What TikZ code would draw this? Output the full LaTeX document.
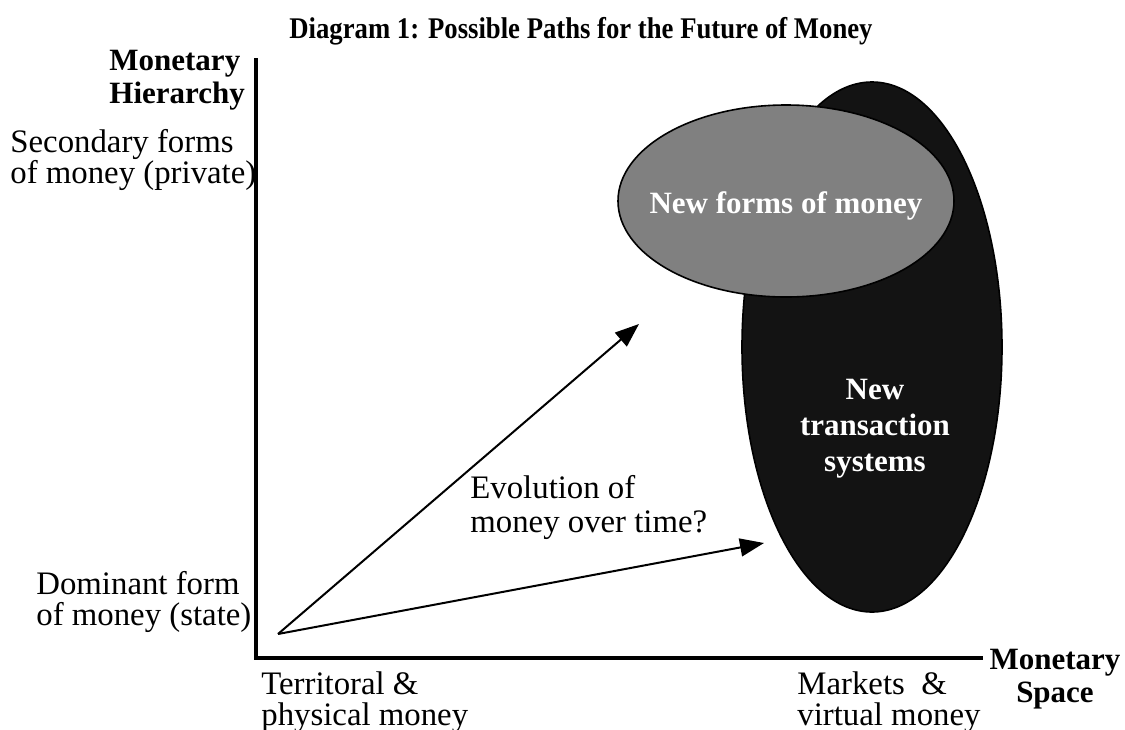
\documentclass[tikz,border=0pt]{standalone}
\usepackage{graphicx}
\usepackage{fontspec}
\setmainfont{Liberation Serif}
\usetikzlibrary{arrows.meta, positioning, shapes.geometric}
\definecolor{BlobGrey}{HTML}{808080}
\definecolor{BlobDark}{HTML}{131313}

\begin{document}
\begin{tikzpicture}[
    x=0.5pt, y=-0.5pt,
    axisline/.style={
        line width=2pt, line join=miter
    },
    sidelabel/.style={
        inner sep=0pt, align=left, font=\fontsize{16.4}{15.3}\selectfont
    },
    axistitle/.style={
        inner sep=0pt, font=\bfseries\fontsize{15.5}{16.5}\selectfont
    },
    blob/.style={
        ellipse, draw=black, line width=0.8pt, inner sep=0pt
    },
    blobtext/.style={
        inner sep=0pt, text=white, align=center, font=\bfseries\fontsize{15.5}{18}\selectfont
    },
    arrow/.style={
        -{Triangle[length=12pt, width=9pt]}, line width=1pt
    }
]
    \useasboundingbox (0,0) rectangle (1125,729);

    % Title
    \node[anchor=base, inner sep=0pt, font=\bfseries\fontsize{15}{17}\selectfont] (title) at (581,38)
        {\scalebox{0.89}[1]{Diagram 1: Possible Paths for the Future of Money}};

    % Axes
    \coordinate (ytop) at (256,58);
    \coordinate (origin) at (256,658);
    \coordinate (xend) at (983,658);
    \draw[axisline] (ytop) -- (origin) -- (xend);

    % (base anchor = baseline of the last line)
    \node[axistitle, anchor=base west, align=left] (hierarchy) at (109,103) {Monetary\\Hierarchy};
    \node[axistitle, anchor=base, align=center] (space) at (1055,702) {Monetary\\Space};

    % Labels along the axes
    \node[sidelabel, anchor=base west] (secondary) at (10,183) {Secondary forms\\of money (private)};
    \node[sidelabel, anchor=base west] (dominant) at (36,625) {Dominant form\\of money (state)};
    \node[sidelabel, anchor=base west] (territorial) at (261,725) {Territoral \&\\physical money};
    \node[sidelabel, anchor=base west] (markets) at (797,725) {Markets\ \ \&\\virtual money};

    % The two regions
    \node[blob, fill=BlobDark, minimum width=130pt, minimum height=265pt] (transaction) at (872,347) {};
    \node[blob, fill=BlobGrey, minimum width=168pt, minimum height=96pt] (newforms) at (786,201) {};
    \node[blobtext, anchor=base] (newformstext) at (786,213) {New forms of money};
    \node[blobtext] (transactiontext) at (875,429) {New\\transaction\\systems};

    % Paths
    \coordinate (start) at (278,634);
    \coordinate (uptip) at (639,324);
    \coordinate (righttip) at (764,543);
    \draw[arrow] (start) -- (uptip);
    \draw[arrow] (start) -- (righttip);

    \node[sidelabel, anchor=base west, font=\fontsize{16.4}{17}\selectfont] (evolution) at (470,532) {Evolution of\\money over time?};

\end{tikzpicture}
\end{document}
